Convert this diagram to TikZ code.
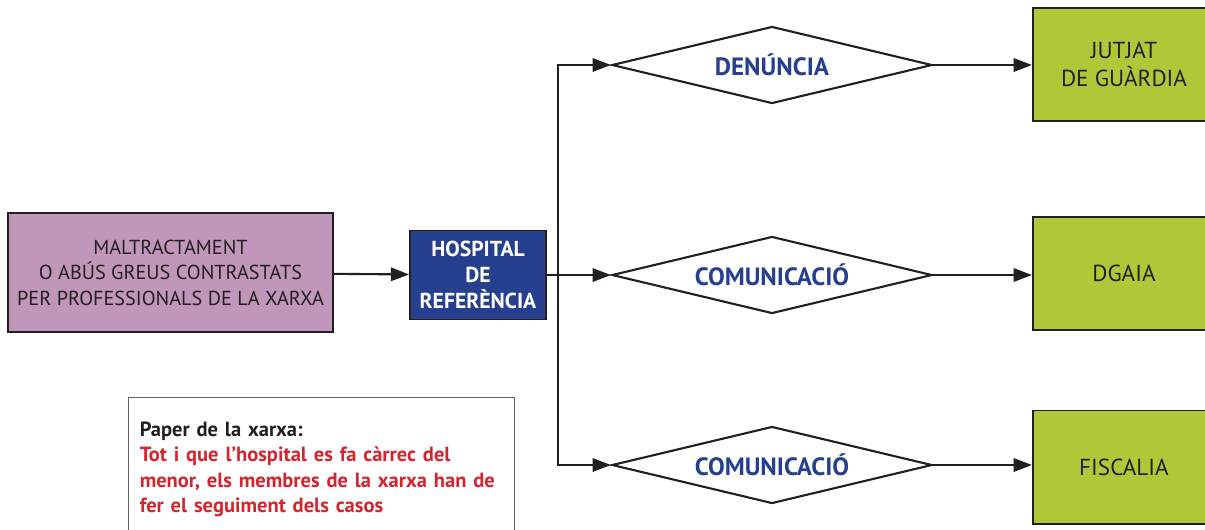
\documentclass[tikz,border=0pt]{standalone}
\usepackage{fontspec}
\setmainfont{PT Sans}
\usetikzlibrary{shapes.geometric}
\usetikzlibrary{arrows.meta}
\usetikzlibrary{calc}

\definecolor{lila}{HTML}{C196BB}
\definecolor{blauhosp}{HTML}{26408F}
\definecolor{verd}{HTML}{B0C837}
\definecolor{vermell}{HTML}{D6232E}
\definecolor{negre}{HTML}{231F20}

\tikzset{
  linia/.style={draw=negre, line width=1.5pt},
  fletxa/.style={linia, -{Triangle[length=13pt,width=9.5pt]}},
  caixa/.style={draw=negre, line width=1.2pt, inner sep=0pt, align=center},
  rombe/.style={diamond, draw=negre, line width=1.5pt, fill=white, inner sep=0pt,
    aspect=4.16, minimum width=8cm, minimum height=1.925cm, text=blauhosp,
    font=\fontsize{17.8}{20}\selectfont\bfseries},
  desti/.style={caixa, fill=verd, line width=1.4pt, minimum width=4.55cm,
    minimum height=2.825cm, text=negre, font=\fontsize{16.5}{19.5}\selectfont},
}

\begin{document}
\begin{tikzpicture}[x=0.025cm, y=-0.025cm]
  \useasboundingbox (0,0) rectangle (1205,529);

  % origen i hospital
  \node[caixa, fill=lila, minimum width=8.125cm, minimum height=2.975cm,
    text=negre, font=\fontsize{14.4}{18.2}\selectfont]
    (maltracte) at (170.5,272.5)
    {MALTRACTAMENT\\O ABÚS GREUS CONTRASTATS\\PER PROFESSIONALS DE LA XARXA};
  \node[caixa, fill=blauhosp, minimum width=3.4cm, minimum height=2.225cm,
    text=white, font=\fontsize{15.4}{18.2}\selectfont\bfseries]
    (hospital) at (478,275) {HOSPITAL\\DE\\REFERÈNCIA};

  % rombes
  \node[rombe] (denuncia) at (772,65) {DENÚNCIA};
  \node[rombe] (comunica) at (772,275) {COMUNICACIÓ};
  \node[rombe] (comunicb) at (772,465) {COMUNICACIÓ};

  % destinataris
  \node[desti] (jutjat) at (1124,64.5) {JUTJAT\\DE GUÀRDIA};
  \node[desti] (dgaia) at (1124,273.5) {DGAIA};
  \node[desti] (fiscalia) at (1124,467) {FISCALIA};

  % nota
  \node[draw=negre!70, line width=0.8pt, anchor=north west, inner xsep=0.28cm,
    inner ysep=0pt, minimum width=9.65cm, minimum height=3.6cm, align=left,
    text width=9.09cm, font=\fontsize{14.6}{18.1}\selectfont\bfseries]
    (paper) at (128,397)
    {\textcolor{negre}{Paper de la xarxa:}\\
     \textcolor{vermell}{Tot i que l’hospital es fa càrrec del}\\
     \textcolor{vermell}{menor, els membres de la xarxa han de}\\
     \textcolor{vermell}{fer el seguiment dels casos}};

  % connexions
  \coordinate (bra) at (558,275);
  \draw[fletxa] (maltracte) -- (hospital);
  \draw[fletxa] (hospital.east) -- (comunica.west);
  \draw[fletxa] (bra) |- (denuncia.west);
  \draw[fletxa] (bra) |- (comunicb.west);
  \draw[fletxa] (denuncia.east) -- (jutjat.west |- denuncia.east);
  \draw[fletxa] (comunica.east) -- (dgaia.west |- comunica.east);
  \draw[fletxa] (comunicb.east) -- (fiscalia.west |- comunicb.east);
\end{tikzpicture}
\end{document}
